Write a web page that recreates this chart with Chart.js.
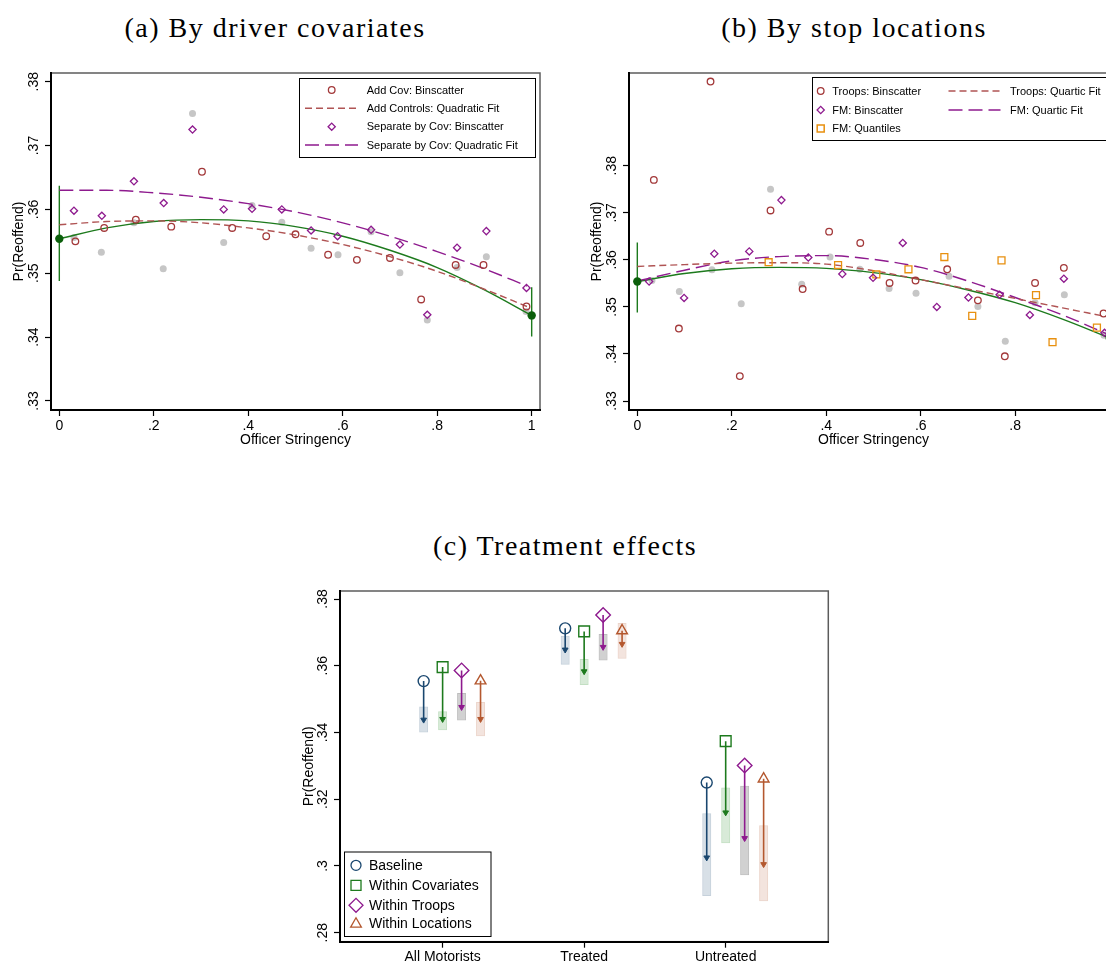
<!DOCTYPE html>
<html>
<head>
<meta charset="utf-8">
<script src="https://cdn.jsdelivr.net/npm/chart.js@4.4.1/dist/chart.umd.min.js"></script>
<style>
  html, body { margin: 0; padding: 0; width: 1106px; height: 963px; overflow: hidden; background: #fff; }
  .panel-title { position: absolute; font-family: "Liberation Serif", "Times New Roman", serif; font-size: 28px;
    letter-spacing: 1.5px; color: #000; white-space: nowrap; transform: translateX(-50%); line-height: 32px; }
  canvas { position: absolute; }
</style>
</head>
<body>
<div class="panel-title" style="left:275px;top:12px">(a) By driver covariates</div>
<div class="panel-title" style="left:854px;top:12px">(b) By stop locations</div>
<div class="panel-title" style="left:565px;top:530px">(c) Treatment effects</div>
<canvas id="chartA" width="570" height="420" style="left:0;top:50px"></canvas>
<canvas id="chartB" width="570" height="420" style="left:578px;top:50px"></canvas>
<canvas id="chartC" width="560" height="393" style="left:290px;top:570px"></canvas>
<script>
// ---- axis ticks ----
const xTickVals = [0, 0.2, 0.4, 0.6, 0.8, 1];
const xTickText = ['0', '.2', '.4', '.6', '.8', '1'];
const yTickVals = [0.33, 0.34, 0.35, 0.36, 0.37, 0.38];
const yTickText = ['.33', '.34', '.35', '.36', '.37', '.38'];
const cTickVals = [0.28, 0.30, 0.32, 0.34, 0.36, 0.38];
const cTickText = ['.28', '.3', '.32', '.34', '.36', '.38'];
const groups = ['All Motorists', 'Treated', 'Untreated'];

// ---- baseline binscatter (grey) and baseline quadratic fit ----
const baseX = [0.031, 0.089, 0.158, 0.220, 0.282, 0.348, 0.408, 0.471, 0.533, 0.590, 0.660, 0.721, 0.779, 0.842, 0.904, 0.988];
const baseY = [0.3556, 0.3533, 0.3579, 0.3507, 0.3750, 0.3548, 0.3606, 0.3580, 0.3539, 0.3529, 0.3565, 0.3501, 0.3427, 0.3509, 0.3526, 0.3440];
const fitX = [0, 0.1, 0.2, 0.3, 0.4, 0.5, 0.6, 0.7, 0.8, 0.9, 1.0];
const baseFit = [0.3554, 0.3571, 0.3581, 0.3584, 0.3582, 0.3573, 0.3558, 0.3536, 0.3509, 0.3474, 0.3434];
const endX = [0, 1];
const endEst = [0.3554, 0.3434];
const endLo = [0.3488, 0.3401];
const endHi = [0.3637, 0.3478];

// ---- (a) driver covariates ----
const addCovX = [0.034, 0.095, 0.162, 0.237, 0.302, 0.366, 0.438, 0.500, 0.569, 0.630, 0.700, 0.766, 0.839, 0.898, 0.989];
const addCovY = [0.3550, 0.3571, 0.3584, 0.3573, 0.3659, 0.3571, 0.3558, 0.3561, 0.3529, 0.3521, 0.3524, 0.3459, 0.3513, 0.3513, 0.3448];
const fitXa = [0, 0.1, 0.2, 0.3, 0.4, 0.5, 0.6, 0.7, 0.8, 0.9, 0.99];
const addCovFit = [0.3576, 0.3581, 0.3582, 0.3579, 0.3571, 0.3560, 0.3545, 0.3526, 0.3503, 0.3475, 0.3448];
const sepCovX = [0.031, 0.090, 0.158, 0.221, 0.282, 0.348, 0.408, 0.471, 0.533, 0.589, 0.660, 0.721, 0.779, 0.842, 0.904, 0.989];
const sepCovY = [0.3598, 0.3590, 0.3644, 0.3610, 0.3725, 0.3600, 0.3601, 0.3600, 0.3567, 0.3558, 0.3568, 0.3545, 0.3435, 0.3540, 0.3566, 0.3477];
const sepCovFit = [0.3630, 0.3630, 0.3626, 0.3619, 0.3609, 0.3596, 0.3579, 0.3558, 0.3534, 0.3507, 0.3480];

// ---- (b) stop locations ----
const troopsX = [0.035, 0.088, 0.155, 0.217, 0.282, 0.350, 0.406, 0.472, 0.534, 0.589, 0.656, 0.721, 0.778, 0.842, 0.903, 0.987];
const troopsY = [0.3770, 0.3454, 0.3979, 0.3353, 0.3705, 0.3538, 0.3660, 0.3636, 0.3551, 0.3556, 0.3580, 0.3514, 0.3395, 0.3551, 0.3583, 0.3486];
const troopsFit = [0.3586, 0.3590, 0.3593, 0.3594, 0.3591, 0.3577, 0.3558, 0.3538, 0.3518, 0.3498, 0.3478];
const fmX = [0.025, 0.099, 0.163, 0.237, 0.305, 0.362, 0.434, 0.499, 0.562, 0.634, 0.701, 0.767, 0.831, 0.903, 0.989];
const fmY = [0.3554, 0.3519, 0.3613, 0.3618, 0.3727, 0.3605, 0.3570, 0.3562, 0.3636, 0.3500, 0.3520, 0.3526, 0.3483, 0.3560, 0.3445];
const fmFit = [0.3555, 0.3578, 0.3598, 0.3607, 0.3609, 0.3601, 0.3584, 0.3555, 0.3520, 0.3483, 0.3440];
const fmQuantX = [0.278, 0.425, 0.506, 0.574, 0.650, 0.709, 0.771, 0.844, 0.879, 0.973];
const fmQuantY = [0.3595, 0.3589, 0.3569, 0.3580, 0.3606, 0.3481, 0.3599, 0.3525, 0.3425, 0.3456];

// ---- (c) treatment effects: raw value, adjusted value, CI of adjusted ----
const baselineRaw = [0.3554, 0.3712, 0.3250];
const baselineAdj = [0.3438, 0.3648, 0.3025];
const baselineLo  = [0.3400, 0.3603, 0.2910];
const baselineHi  = [0.3478, 0.3690, 0.3158];
const covRaw = [0.3596, 0.3703, 0.3374];
const covAdj = [0.3440, 0.3583, 0.3160];
const covLo  = [0.3407, 0.3542, 0.3068];
const covHi  = [0.3464, 0.3620, 0.3235];
const troopsRaw = [0.3586, 0.3752, 0.3301];
const troopsAdj = [0.3476, 0.3656, 0.3083];
const troopsLo  = [0.3436, 0.3616, 0.2972];
const troopsHi  = [0.3518, 0.3695, 0.3240];
const locRaw = [0.3555, 0.3705, 0.3261];
const locAdj = [0.3440, 0.3665, 0.3005];
const locLo  = [0.3389, 0.3621, 0.2894];
const locHi  = [0.3491, 0.3728, 0.3122];

// ---- colours ----
const GREEN = '#1d7a1d', GREEN_DOT = '#0b5f0b';
const GREY = '#c6c6c6';
const RED = '#a3393a', RED_LINE = '#b05454';
const PURPLE = '#8e1a8e';
const ORANGE = '#e8900f';
const NAVY = '#1a476f', SIENNA = '#b4582f';

Chart.defaults.font.family = '"Liberation Sans", Arial, sans-serif';
Chart.defaults.color = '#000';
Chart.defaults.animation = false;

const pts = (xs, ys) => xs.map((x, i) => ({ x, y: ys[i] }));

// grey outer box of the plot region; axes are drawn over it
const framePlugin = {
  id: 'frame',
  beforeDraw(chart) {
    const { ctx, chartArea: a } = chart;
    ctx.save();
    ctx.strokeStyle = '#5c5c5c';
    ctx.lineWidth = 1.5;
    ctx.strokeRect(a.left, a.top, a.right - a.left, a.bottom - a.top);
    ctx.restore();
  }
};

function marker(ctx, style, x, y, r) {
  ctx.beginPath();
  if (style === 'circle') ctx.arc(x, y, r, 0, Math.PI * 2);
  else if (style === 'rect') ctx.rect(x - r, y - r, 2 * r, 2 * r);
  else if (style === 'rectRot') {
    ctx.moveTo(x - r, y); ctx.lineTo(x, y - r); ctx.lineTo(x + r, y); ctx.lineTo(x, y + r); ctx.closePath();
  } else if (style === 'triangle') {
    ctx.moveTo(x, y - r); ctx.lineTo(x + r * 0.866, y + r * 0.5); ctx.lineTo(x - r * 0.866, y + r * 0.5); ctx.closePath();
  }
  ctx.stroke();
}

function boxLegend(cfg) {
  return {
    id: 'boxLegend',
    afterDraw(chart) {
      const ctx = chart.ctx;
      const [bx, by, bw, bh] = cfg.box;
      ctx.save();
      ctx.fillStyle = '#fff';
      ctx.fillRect(bx, by, bw, bh);
      ctx.strokeStyle = '#000';
      ctx.lineWidth = 1;
      ctx.strokeRect(bx + 0.5, by + 0.5, bw, bh);
      ctx.font = cfg.font;
      ctx.textBaseline = 'middle';
      for (const it of cfg.items) {
        ctx.strokeStyle = it.color;
        ctx.lineWidth = it.lw;
        if (it.dash) {
          ctx.setLineDash(it.dash);
          ctx.beginPath();
          ctx.moveTo(it.sx - it.len / 2, it.y);
          ctx.lineTo(it.sx + it.len / 2, it.y);
          ctx.stroke();
          ctx.setLineDash([]);
        } else {
          marker(ctx, it.style, it.sx, it.y, it.r);
        }
        ctx.fillStyle = '#000';
        ctx.fillText(it.label, it.tx, it.y + 0.5);
      }
      ctx.restore();
    }
  };
}

const tickGrid = { display: true, offset: false, drawOnChartArea: false, drawTicks: true, tickLength: 6, tickWidth: 1.2, tickColor: '#000' };
const axisBorder = { display: true, color: '#000', width: 2 };

function scaleX(min, max, vals, text, title, height, pad) {
  return {
    type: 'linear', min, max, offset: false, beginAtZero: false,
    afterBuildTicks: s => { s.ticks = vals.map(v => ({ value: v })); },
    afterFit: s => { s.height = height; },
    ticks: { callback: (v, i) => text[i], padding: pad, font: { size: 14 }, color: '#000', minRotation: 0, maxRotation: 0, autoSkip: false },
    grid: tickGrid,
    border: axisBorder,
    title: title ? { display: true, text: title, color: '#000', font: { size: 14 }, padding: { top: 0, bottom: 21.6 } } : { display: false }
  };
}

function scaleY(min, max, vals, text, width) {
  return {
    type: 'linear', min, max, offset: false, beginAtZero: false,
    afterBuildTicks: s => { s.ticks = vals.map(v => ({ value: v })); },
    afterFit: s => { s.width = width; },
    ticks: { callback: (v, i) => text[i], minRotation: 90, maxRotation: 90, crossAlign: 'center', padding: 1.5,
             font: { size: 14 }, color: '#000', autoSkip: false },
    grid: tickGrid,
    border: axisBorder,
    title: { display: true, text: 'Pr(Reoffend)', color: '#000', font: { size: 14 }, padding: { top: 10.5, bottom: 0 } }
  };
}

function curve(xs, ys, color, dash, order) {
  return { data: pts(xs, ys), showLine: true, borderColor: color, borderWidth: 1.4, borderDash: dash,
           pointRadius: 0, cubicInterpolationMode: 'monotone', order };
}
function hollow(xs, ys, color, style, r, order) {
  return { data: pts(xs, ys), pointStyle: style, pointRadius: r, pointBorderWidth: 1.3,
           pointBorderColor: color, pointBackgroundColor: 'rgba(0,0,0,0)', borderColor: color, order };
}
// green baseline: fitted curve, end-point estimates and their CIs
function baselineSets() {
  const ci = [];
  endX.forEach((x, i) => { ci.push({ x, y: endLo[i] }, { x, y: endHi[i] }, { x, y: null }); });
  return [
    { data: pts(baseX, baseY), pointRadius: 3.5, pointBackgroundColor: GREY, pointBorderWidth: 0, order: 6 },
    curve(fitX, baseFit, GREEN, [], 3),
    { data: ci, showLine: true, spanGaps: false, borderColor: GREEN, borderWidth: 1.4, pointRadius: 0, tension: 0, order: 3 },
    { data: pts(endX, endEst), pointRadius: 4.2, pointBackgroundColor: GREEN_DOT, pointBorderWidth: 0, order: 0 }
  ];
}

function baseOptions(yMin, yMax, padRight, padTop) {
  return {
    responsive: false,
    devicePixelRatio: 1,
    layout: { padding: { left: 0, right: padRight, top: padTop, bottom: 0 } },
    plugins: { legend: { display: false }, tooltip: { enabled: false } },
    scales: {
      x: scaleX(-0.0176, 1.0176, xTickVals, xTickText, 'Officer Stringency', 60, 2),
      y: scaleY(yMin, yMax, yTickVals, yTickText, 51)
    }
  };
}

// ---------- panel (a) ----------
new Chart(document.getElementById('chartA'), {
  type: 'scatter',
  data: {
    datasets: [
      ...baselineSets(),
      curve(fitXa, addCovFit, RED_LINE, [7, 4], 2),
      curve(fitXa, sepCovFit, PURPLE, [14, 6], 2),
      hollow(addCovX, addCovY, RED, 'circle', 3.3, 1),
      hollow(sepCovX, sepCovY, PURPLE, 'rectRot', 3.6, 1)
    ]
  },
  options: baseOptions(0.32859, 0.38136, 30, 23),
  plugins: [framePlugin, boxLegend({
    box: [299, 28, 236, 79], font: '11px "Liberation Sans", Arial, sans-serif',
    items: [
      { label: 'Add Cov: Binscatter', style: 'circle', r: 3.3, color: RED, lw: 1.3, sx: 331.7, tx: 366.7, y: 40 },
      { label: 'Add Controls: Quadratic Fit', dash: [7, 4], len: 53, color: RED_LINE, lw: 1.4, sx: 331.5, tx: 366.7, y: 58.3 },
      { label: 'Separate by Cov: Binscatter', style: 'rectRot', r: 3.6, color: PURPLE, lw: 1.3, sx: 331.7, tx: 366.7, y: 76.7 },
      { label: 'Separate by Cov: Quadratic Fit', dash: [14, 6], len: 53, color: PURPLE, lw: 1.4, sx: 331.5, tx: 366.7, y: 95 }
    ]
  })]
});

// ---------- panel (b) ----------
new Chart(document.getElementById('chartB'), {
  type: 'scatter',
  data: {
    datasets: [
      ...baselineSets(),
      curve(fitX, troopsFit, RED_LINE, [7, 4], 2),
      curve(fitX, fmFit, PURPLE, [14, 6], 2),
      hollow(troopsX, troopsY, RED, 'circle', 3.3, 1),
      hollow(fmX, fmY, PURPLE, 'rectRot', 3.6, 1),
      hollow(fmQuantX, fmQuantY, ORANGE, 'rect', 4.9, 1)
    ]
  },
  options: baseOptions(0.32809, 0.39972, 30, 23),
  plugins: [framePlugin, boxLegend({
    box: [234, 27, 302, 63], font: '11px "Liberation Sans", Arial, sans-serif',
    items: [
      { label: 'Troops: Binscatter', style: 'circle', r: 3.3, color: RED, lw: 1.3, sx: 242.7, tx: 254.3, y: 41 },
      { label: 'FM: Binscatter', style: 'rectRot', r: 3.6, color: PURPLE, lw: 1.3, sx: 242.7, tx: 254.3, y: 60 },
      { label: 'FM: Quantiles', style: 'rect', r: 3.5, color: ORANGE, lw: 1.5, sx: 242.7, tx: 254.3, y: 78.5 },
      { label: 'Troops: Quartic Fit', dash: [7, 4], len: 52, color: RED_LINE, lw: 1.4, sx: 396.5, tx: 432, y: 41 },
      { label: 'FM: Quartic Fit', dash: [14, 6], len: 52, color: PURPLE, lw: 1.4, sx: 396.5, tx: 432, y: 60 }
    ]
  })]
});

// ---------- panel (c) ----------
const cSeries = [
  { raw: baselineRaw, adj: baselineAdj, lo: baselineLo, hi: baselineHi, color: NAVY, fill: 'rgba(26,71,111,0.17)', edge: 'rgba(26,71,111,0.25)', style: 'circle', r: 5.5, off: -0.134 },
  { raw: covRaw, adj: covAdj, lo: covLo, hi: covHi, color: GREEN, fill: 'rgba(40,140,40,0.18)', edge: 'rgba(40,140,40,0.28)', style: 'rect', r: 7.6, off: 0 },
  { raw: troopsRaw, adj: troopsAdj, lo: troopsLo, hi: troopsHi, color: PURPLE, fill: 'rgba(90,90,90,0.28)', edge: 'rgba(90,90,90,0.4)', style: 'rectRot', r: 7.3, off: 0.134 },
  { raw: locRaw, adj: locAdj, lo: locLo, hi: locHi, color: SIENNA, fill: 'rgba(180,88,47,0.16)', edge: 'rgba(180,88,47,0.25)', style: 'triangle', r: 6.2, off: 0.268 }
];
const cSets = [];
cSeries.forEach(s => {
  const xs = groups.map((g, i) => i + s.off);
  const arrow = [];
  xs.forEach((x, i) => { arrow.push({ x, y: s.raw[i] }, { x, y: s.adj[i] }, { x, y: null }); });
  cSets.push(
    { type: 'bar', data: xs.map((x, i) => ({ x, y: [s.lo[i], s.hi[i]] })), backgroundColor: s.fill, borderColor: s.edge,
      borderWidth: 1, borderSkipped: false, grouped: false, maxBarThickness: 9, order: 4 },
    { data: arrow, showLine: true, spanGaps: false, borderColor: s.color, borderWidth: 1.6, pointRadius: 0, tension: 0, order: 3 },
    { data: pts(xs, s.adj), pointStyle: 'triangle', rotation: 180, pointRadius: 3.3, pointBackgroundColor: s.color,
      pointBorderColor: s.color, pointBorderWidth: 1, order: 2 },
    { data: pts(xs, s.raw), pointStyle: s.style, pointRadius: s.r, pointBorderWidth: 1.4, pointBorderColor: s.color,
      pointBackgroundColor: 'rgba(0,0,0,0)', order: 1 }
  );
});

new Chart(document.getElementById('chartC'), {
  type: 'scatter',
  data: { datasets: cSets },
  options: {
    responsive: false,
    devicePixelRatio: 1,
    layout: { padding: { left: 0, right: 21.7, top: 21, bottom: 0 } },
    plugins: { legend: { display: false }, tooltip: { enabled: false } },
    scales: {
      x: scaleX(-0.725, 2.725, [0, 1, 2], groups, null, 21.3, 1),
      y: scaleY(0.2773, 0.3824, cTickVals, cTickText, 50)
    }
  },
  plugins: [framePlugin, boxLegend({
    box: [54, 281.5, 146.5, 84.5], font: '14px "Liberation Sans", Arial, sans-serif',
    items: [
      { label: 'Baseline', style: 'circle', r: 5, color: NAVY, lw: 1.3, sx: 66, tx: 79, y: 295.3 },
      { label: 'Within Covariates', style: 'rect', r: 5, color: GREEN, lw: 1.3, sx: 66, tx: 79, y: 315.3 },
      { label: 'Within Troops', style: 'rectRot', r: 7, color: PURPLE, lw: 1.3, sx: 66, tx: 79, y: 335.3 },
      { label: 'Within Locations', style: 'triangle', r: 6.2, color: SIENNA, lw: 1.3, sx: 66, tx: 79, y: 354 }
    ]
  })]
});
</script>
</body>
</html>
